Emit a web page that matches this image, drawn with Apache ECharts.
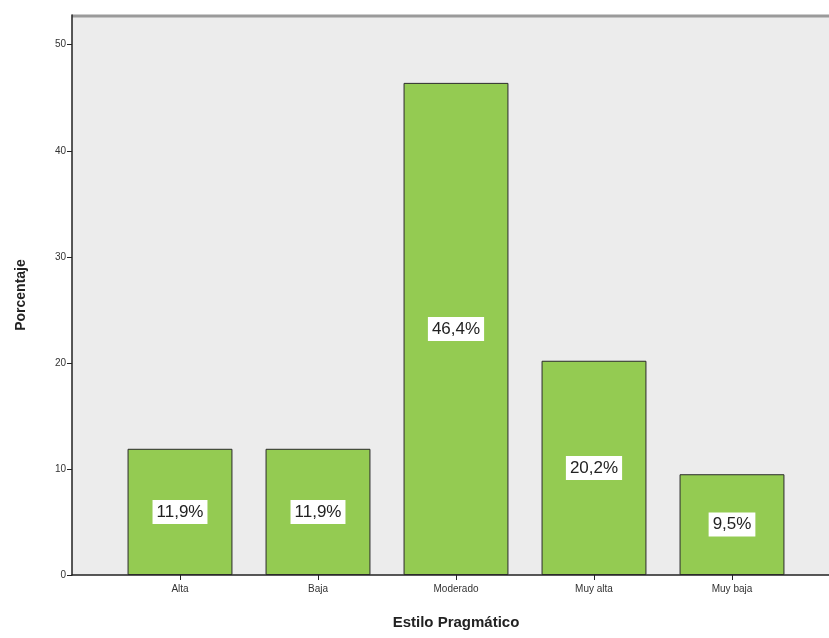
<!DOCTYPE html>
<html><head><meta charset="utf-8">
<script src="https://cdn.jsdelivr.net/npm/echarts@6/dist/echarts.min.js"></script>
<style>html,body{margin:0;padding:0;background:#fff}#c{width:829px;height:638px}</style>
</head><body><div id="c"></div>
<script>
var categories = ['Alta', 'Baja', 'Moderado', 'Muy alta', 'Muy baja'];
var percentages = [11.9, 11.9, 46.4, 20.2, 9.5];
var yTicks = [0, 10, 20, 30, 40, 50];
var yMax = 52.8;

var chart = echarts.init(document.getElementById('c'));
chart.setOption({
  animation: false,
  grid: [
    {left: 72, right: 0, top: 15, bottom: 63, show: true, backgroundColor: '#ECECEC', borderWidth: 0},
    {left: 111, right: 28, top: 15, bottom: 63}
  ],
  graphic: [{
    type: 'line', shape: {x1: 72, y1: 16, x2: 829, y2: 16},
    style: {stroke: '#9a9a9a', lineWidth: 3}
  }],
  xAxis: [
    {gridIndex: 0, type: 'value', min: 0, max: 1, axisLine: {show: true, lineStyle: {color: '#222', width: 1.5}},
     axisTick: {show: false}, axisLabel: {show: false}, splitLine: {show: false}},
    {gridIndex: 1, type: 'category', data: categories,
     axisLine: {show: false}, axisTick: {show: true, alignWithLabel: true, length: 5, lineStyle: {color: '#222'}},
     axisLabel: {color: '#333', fontSize: 10, fontFamily: 'Arial, Liberation Sans', margin: 9},
     name: 'Estilo Pragmático', nameLocation: 'middle', nameGap: 40,
     nameTextStyle: {fontSize: 15, fontWeight: 'bold', color: '#222', fontFamily: 'Arial, Liberation Sans'}}
  ],
  yAxis: [
    {gridIndex: 0, type: 'value', min: 0, max: yMax,
     axisLine: {show: true, lineStyle: {color: '#222', width: 1.5}},
     axisTick: {show: true, length: 5, customValues: yTicks, lineStyle: {color: '#222'}},
     axisLabel: {customValues: yTicks, color: '#333', fontSize: 10, fontFamily: 'Arial, Liberation Sans', margin: 6},
     splitLine: {show: false},
     name: 'Porcentaje', nameLocation: 'middle', nameGap: 44, nameRotate: 90,
     nameTextStyle: {fontSize: 14, fontWeight: 'bold', color: '#222', fontFamily: 'Arial, Liberation Sans'}},
    {gridIndex: 1, type: 'value', min: 0, max: yMax, show: false}
  ],
  series: [{
    type: 'bar', xAxisIndex: 1, yAxisIndex: 1, data: percentages,
    barCategoryGap: '24%',
    itemStyle: {color: '#94CB52', borderColor: '#2a2a2a', borderWidth: 1},
    label: {show: true, position: 'inside',
      formatter: function(p){ return p.value.toFixed(1).replace('.', ',') + '%'; },
      color: '#222', fontSize: 17, fontFamily: 'Arial, Liberation Sans',
      backgroundColor: '#fff', padding: [4, 4, 3, 4]}
  }]
});
</script></body></html>
